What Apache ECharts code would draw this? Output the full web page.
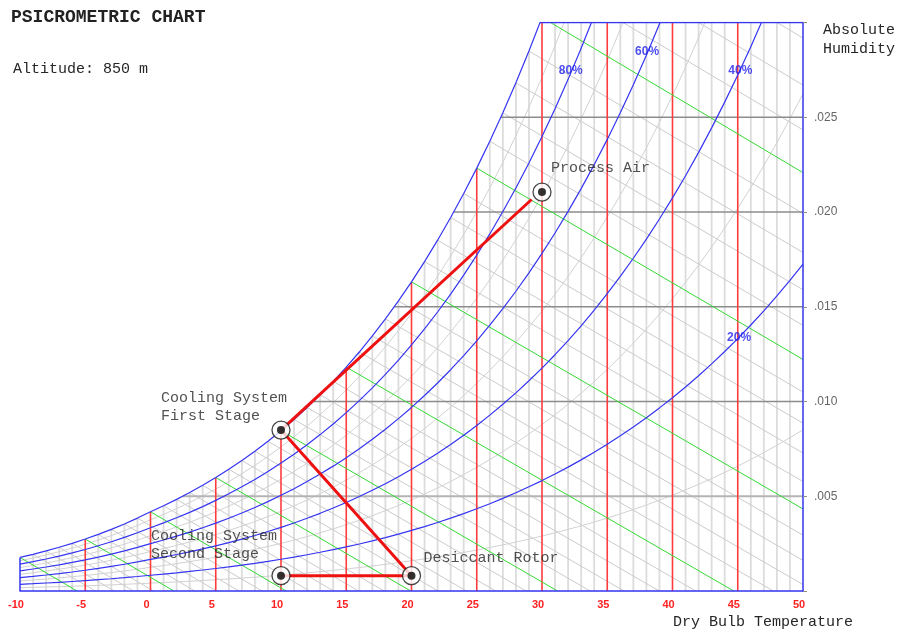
<!DOCTYPE html>
<html><head><meta charset="utf-8">
<script src="https://cdn.jsdelivr.net/npm/echarts@6/dist/echarts.min.js"></script>
<style>html,body{margin:0;padding:0;background:#fff}#c{width:898px;height:633px}</style>
</head><body><div id="c"></div>
<script>
// ---------- data ----------
const ALTITUDE_TEXT = 'Altitude: 850 m';
const PRESSURE_KPA = 91.52;            // barometric pressure at 850 m
const Y_MAX = 0.030;
const xTicks = [-10, -5, 0, 5, 10, 15, 20, 25, 30, 35, 40, 45, 50];
const yTickLabels = ['', '.005', '.010', '.015', '.020', '.025', ''];
const tableTemps = [-10,-9,-8,-7,-6,-5,-4,-3,-2,-1,0,1,2,3,4,5,6,7,8,9,10,11,12,13,14,15,16,17,18,19,20,
  21,22,23,24,25,26,27,28,29,30,31,32,33,34,35,36,37,38,39,40,41,42,43,44,45,46,47,48,49,50];
// saturation vapour pressure (kPa) for each table temperature
const satPressure = [0.2599,0.2839,0.3100,0.3382,0.3687,0.4017,0.4374,0.4760,0.5177,0.5627,0.6112,
  0.6571,0.7060,0.7581,0.8135,0.8726,0.9354,1.0021,1.0730,1.1482,1.2282,1.3129,1.4028,1.4981,1.5989,
  1.7057,1.8188,1.9383,2.0647,2.1982,2.3392,2.4881,2.6452,2.8109,2.9856,3.1697,3.3637,3.5679,3.7828,
  4.0089,4.2467,4.4966,4.7592,5.0351,5.3247,5.6286,5.9475,6.2818,6.6324,6.9997,7.3844,7.7873,8.2090,
  8.6503,9.1118,9.5944,10.0988,10.6259,11.1764,11.7512,12.3513];
const rhBlue = [20, 40, 60, 80];
const rhGray = [10, 30, 50, 70, 90];
const wetBulbTemps = [-10,-9,-8,-7,-6,-5,-4,-3,-2,-1,0,1,2,3,4,5,6,7,8,9,10,11,12,13,14,15,16,17,18,19,20,
  21,22,23,24,25,26,27,28,29,30,31,32,33,34];
const humidityLines = [0.005, 0.010, 0.015, 0.020, 0.025];
const rhLabelText = ['80%', '60%', '40%', '20%'];
const rhLabelTemp = [32.2, 38.05, 45.2, 45.1];
const rhLabelHum = [0.02746, 0.02846, 0.02746, 0.01339];
const pointNames = ['Process Air', 'Cooling System\nFirst Stage', 'Desiccant Rotor', 'Cooling System\nSecond Stage'];
const pointTemps = [30.0, 10.0, 20.0, 10.0];
const pointHum = [0.02105, 0.00849, 0.00081, 0.00081];
const pathTemps = [29.2, 10.0, 20.0, 10.0];
const pathHum = [0.02066, 0.00849, 0.00081, 0.00081];

// ---------- build ----------
const BLUE = '#3535f2';
function humidityRatio(phi, p) { const pv = phi * p; return 0.622 * pv / (PRESSURE_KPA - pv); }
const satW = satPressure.map(p => humidityRatio(1, p));
function satTempAt(w) {            // where the saturation curve reaches humidity w
  for (let i = 0; i < satW.length - 1; i++) {
    if (satW[i] <= w && satW[i + 1] > w) return tableTemps[i] + (w - satW[i]) / (satW[i + 1] - satW[i]);
  }
  return tableTemps[0];
}
const series = [];
function seg(data, color, width, z) {
  return { type: 'line', data, symbol: 'none', silent: true, animation: false, clip: true, z,
    lineStyle: { color, width } };
}
// light 1-degree verticals (up to saturation)
tableTemps.forEach((t, i) => {
  if (t > -10 && t < 50 && t % 5 !== 0) series.push(seg([[t, 0], [t, Math.min(satW[i], Y_MAX)]], '#dcdcdc', 1.8, 1));
});
// red 5-degree verticals
xTicks.forEach(t => {
  if (t > -10 && t < 50) {
    const i = tableTemps.indexOf(t);
    series.push(seg([[t, 0], [t, Math.min(satW[i], Y_MAX)]], '#ff3b3b', 1.6, 3));
  }
});
// wet bulb lines
wetBulbTemps.forEach(twb => {
  const i = tableTemps.indexOf(twb);
  const ws = satW[i];
  const h = 1.006 * twb + ws * (2501 + 1.86 * twb);
  const w50 = (h - 1.006 * 50) / (2501 + 1.86 * 50);
  const end = w50 >= 0 ? [50, w50] : [h / 1.006, 0];
  const green = twb % 5 === 0;
  series.push(seg([[twb, ws], end], green ? '#35d835' : '#cbcbcb', 1, green ? 3 : 1));
});
// humidity horizontals (from saturation to right edge)
humidityLines.forEach((w, k) => series.push(seg([[satTempAt(w), w], [50, w]], k === 0 ? '#b4b4b4' : '#8c8c8c', k === 0 ? 2 : 1.5, 2)));
// RH curves
rhGray.forEach(rh => series.push(seg(tableTemps.map((t, i) => [t, humidityRatio(rh / 100, satPressure[i])]), '#d2d2d2', 1, 1)));
rhBlue.forEach(rh => series.push(seg(tableTemps.map((t, i) => [t, humidityRatio(rh / 100, satPressure[i])]), BLUE, 1.2, 4)));
// left border
series.push(seg([[-10, 0], [-10, satW[0]]], BLUE, 1.5, 4));
// saturation curve + white mask above it
const satIdxEnd = tableTemps.indexOf(30);
const satData = tableTemps.slice(0, satIdxEnd + 1).map((t, i) => [t, satW[i]]);
const mask = seg(satData, BLUE, 1.2, 5);
mask.areaStyle = { color: '#ffffff', opacity: 1, origin: 'end' };
series.push(mask);
// top border from saturation crossing
series.push(seg([[satTempAt(Y_MAX), Y_MAX], [50, Y_MAX]], BLUE, 1.5, 6));
// process path
series.push(seg(pathTemps.map((t, i) => [t, pathHum[i]]), '#ee1111', 3, 7));
// markers
const labelOffsets = [[9, -24], [-120, -23], [12, -18], [-130, -31]];
series.push({
  type: 'scatter', z: 8, symbol: 'circle', symbolSize: 18, silent: true, animation: false,
  itemStyle: { color: '#ffffff', borderColor: '#1a1a1a', borderWidth: 1.3 },
  data: pointTemps.map((t, i) => ({
    value: [t, pointHum[i]], name: pointNames[i],
    label: { show: true, formatter: pointNames[i], position: 'inside', align: 'left', verticalAlign: 'middle',
      offset: labelOffsets[i], color: '#262626', fontFamily: 'Liberation Mono', fontSize: 15, lineHeight: 18 }
  }))
});
series.push({
  type: 'scatter', z: 9, symbol: 'circle', symbolSize: 8, silent: true, animation: false,
  itemStyle: { color: '#000' },
  data: pointTemps.map((t, i) => [t, pointHum[i]])
});
// RH labels
series.push({
  type: 'scatter', z: 10, symbolSize: 1, silent: true, animation: false,
  itemStyle: { color: 'rgba(0,0,0,0)' },
  data: rhLabelTemp.map((t, i) => ({
    value: [t, rhLabelHum[i]],
    label: { show: true, formatter: rhLabelText[i], position: 'inside', color: '#2222ee', fontWeight: 'bold',
      fontFamily: 'Liberation Sans', fontSize: 12 }
  }))
});

const chart = echarts.init(document.getElementById('c'), null, { renderer: 'canvas' });
chart.setOption({
  animation: false,
  backgroundColor: '#fff',
  grid: { left: 20, right: 95, top: 22.5, bottom: 42, containLabel: false },
  xAxis: {
    type: 'value', min: -10, max: 50, interval: 5, z: 10,
    axisLine: { show: true, onZero: false, lineStyle: { color: BLUE, width: 1.5 } },
    axisTick: { show: false }, splitLine: { show: false },
    axisLabel: { color: '#ff2222', fontWeight: 'bold', fontSize: 11, fontFamily: 'Liberation Sans', margin: 8,
      padding: [0, 8, 0, 0] }
  },
  yAxis: {
    type: 'value', position: 'right', min: 0, max: Y_MAX, interval: 0.005, z: 10,
    axisLine: { show: true, onZero: false, lineStyle: { color: BLUE, width: 1.5 } },
    axisTick: { show: true, length: 4, lineStyle: { color: '#8c8c8c' } },
    splitLine: { show: false },
    axisLabel: { color: '#666', fontSize: 12, fontFamily: 'Liberation Sans', margin: 11,
      formatter: v => yTickLabels[Math.round(v / 0.005)] || '' }
  },
  graphic: [
    { type: 'text', z: 100, left: 11, top: 8, style: { text: 'PSICROMETRIC CHART', font: 'bold 18px "Liberation Mono"', fill: '#222' } },
    { type: 'text', z: 100, left: 13, top: 62, style: { text: ALTITUDE_TEXT, font: '15px "Liberation Mono"', fill: '#262626' } },
    { type: 'text', z: 100, left: 823, top: 21, style: { text: 'Absolute\nHumidity', font: '15px "Liberation Mono"', fill: '#262626', lineHeight: 19 } },
    { type: 'text', z: 100, left: 673, top: 615, style: { text: 'Dry Bulb Temperature', font: '15px "Liberation Mono"', fill: '#262626' } }
  ],
  series
});
</script>
</body></html>
